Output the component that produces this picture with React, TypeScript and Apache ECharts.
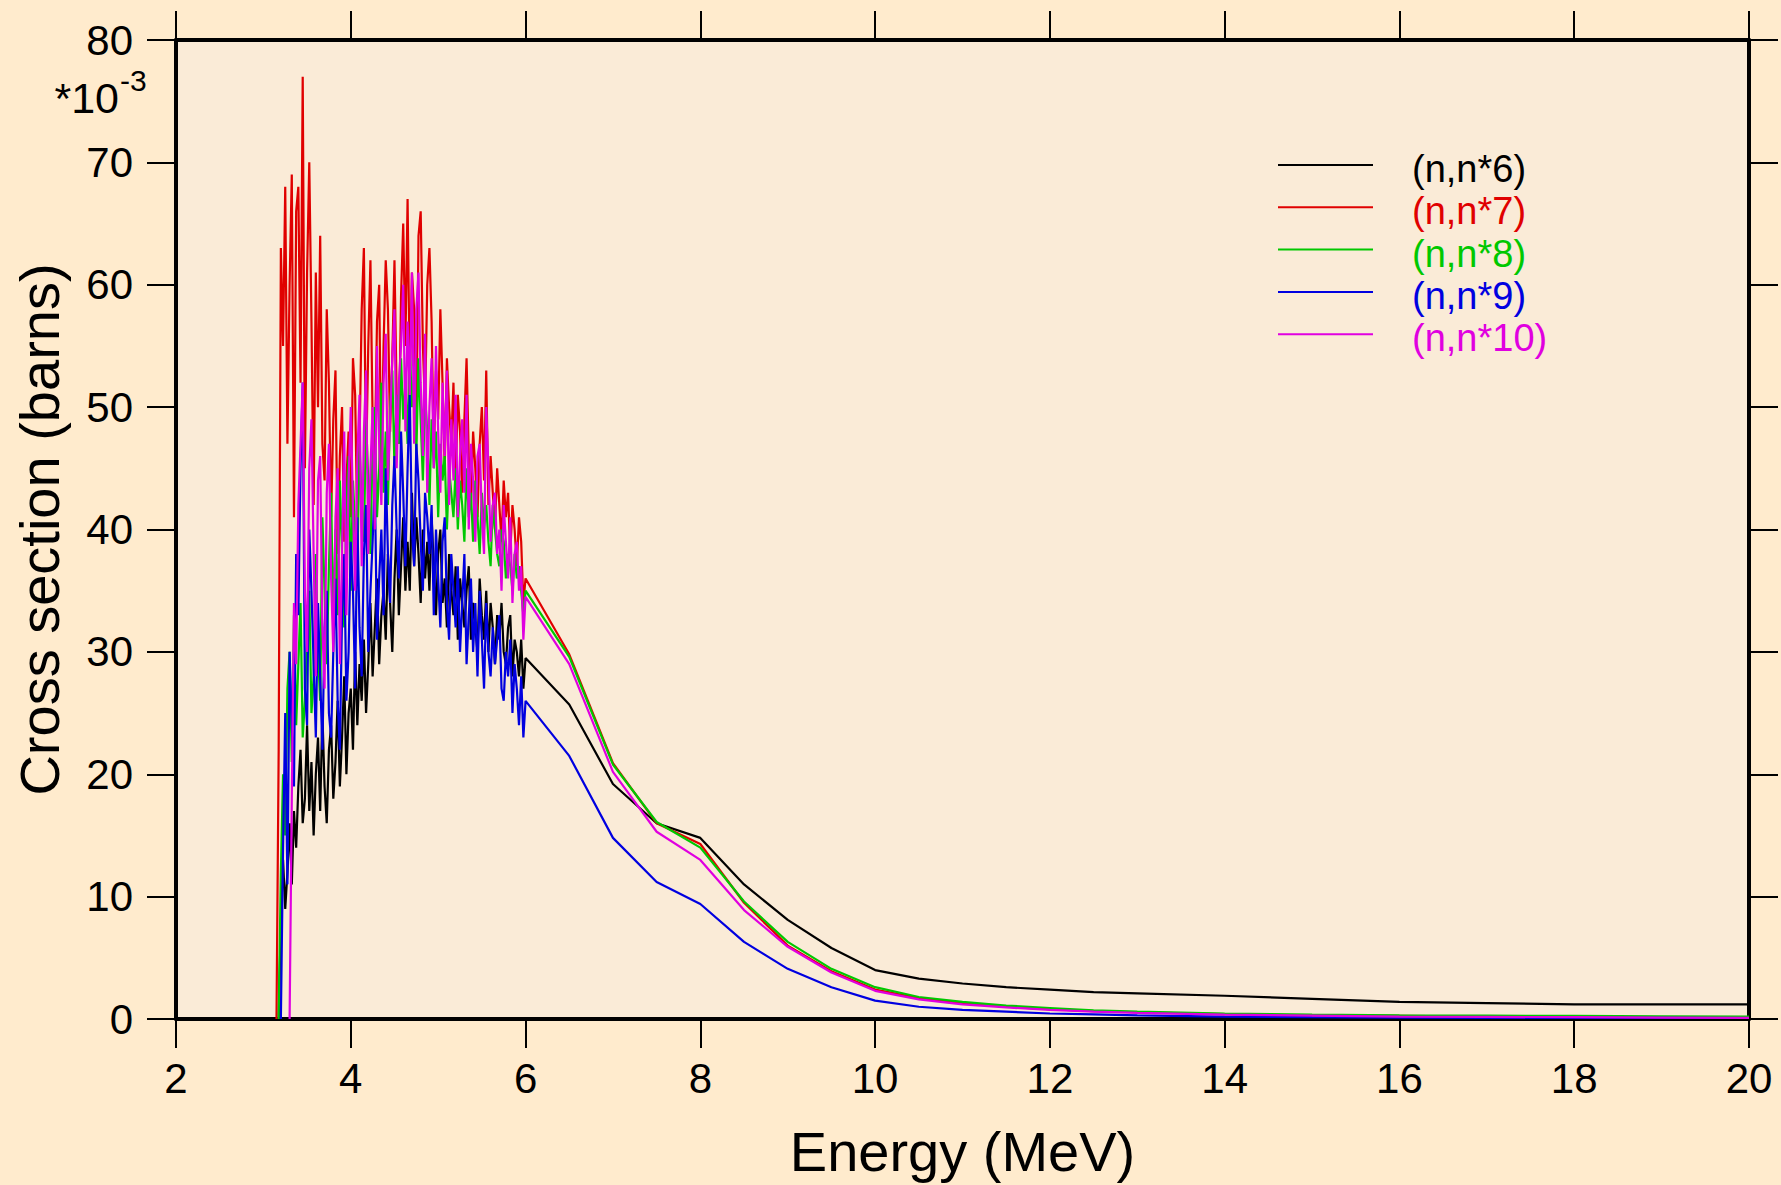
import React, { useEffect, useRef } from "react";
import * as echarts from "echarts";

// Energy grid (MeV) of the resonance region
const E_NOISY = [
  3.15, 3.175, 3.2, 3.225, 3.25, 3.275, 3.3, 3.325, 3.35, 3.375,
  3.4, 3.425, 3.45, 3.475, 3.5, 3.525, 3.55, 3.575, 3.6, 3.625,
  3.65, 3.675, 3.7, 3.725, 3.75, 3.775, 3.8, 3.825, 3.85, 3.875,
  3.9, 3.925, 3.95, 3.975, 4.0, 4.025, 4.05, 4.075, 4.1, 4.125,
  4.15, 4.175, 4.2, 4.225, 4.25, 4.275, 4.3, 4.325, 4.35, 4.375,
  4.4, 4.425, 4.45, 4.475, 4.5, 4.525, 4.55, 4.575, 4.6, 4.625,
  4.65, 4.675, 4.7, 4.725, 4.75, 4.775, 4.8, 4.825, 4.85, 4.875,
  4.9, 4.925, 4.95, 4.975, 5.0, 5.025, 5.05, 5.075, 5.1, 5.125,
  5.15, 5.175, 5.2, 5.225, 5.25, 5.275, 5.3, 5.325, 5.35, 5.375,
  5.4, 5.425, 5.45, 5.475, 5.5, 5.525, 5.55, 5.575, 5.6, 5.625,
  5.65, 5.675, 5.7, 5.725, 5.75, 5.775, 5.8, 5.825, 5.85, 5.875,
  5.9, 5.925, 5.95, 5.975,
];

// Energy grid (MeV) of the smooth region
const E_SMOOTH = [6, 6.5, 7, 7.5, 8, 8.5, 9, 9.5, 10, 10.5, 11, 11.5, 12, 12.5, 13, 14, 15, 16, 17, 18, 19, 20];

// Cross sections in units of 1e-3 barns
const N6_NOISY = [
  null, 0, 8, 13, 9, 12, 16, 11, 17, 14,
  19, 22, 16, 18, 24, 17, 21, 15, 20, 23,
  17, 25, 19, 16, 22, 24, 18, 21, 26, 19,
  23, 28, 20, 25, 27, 22, 30, 24, 29, 26,
  31, 25, 29, 34, 28, 32, 36, 29, 33, 35,
  31, 38, 34, 30, 36, 40, 33, 37, 41, 35,
  39, 35, 43, 37, 41, 38, 34, 40, 36, 39,
  35, 41, 37, 33, 38, 40, 34, 36, 32, 38,
  35, 33, 37, 31, 36, 34, 32, 35, 37, 31,
  34, 32, 30, 36, 33, 31, 35, 30, 34, 32,
  29, 33, 31, 34, 30, 29, 32, 33, 28, 31,
  30, 28, 31, 27,
];
const N6_SMOOTH = [29.5, 25.7, 19.2, 16.0, 14.8, 11.0, 8.1, 5.8, 4.0, 3.3, 2.9, 2.6, 2.4, 2.2, 2.1, 1.9, 1.65, 1.4, 1.3, 1.2, 1.2, 1.2];

const N7_NOISY = [
  0, 22, 63, 55, 68, 47, 60, 69, 41, 66,
  68, 52, 77, 45, 61, 70, 57, 42, 61, 50,
  64, 47, 44, 58, 52, 41, 49, 53, 38, 46,
  50, 39, 44, 48, 41, 54, 51, 40, 47, 58,
  63, 45, 55, 62, 49, 46, 57, 60, 44, 55,
  62, 58, 48, 54, 62, 51, 47, 59, 65, 55,
  67, 52, 61, 58, 48, 64, 66, 55, 50, 60,
  63, 57, 46, 53, 49, 58, 52, 45, 54, 50,
  47, 52, 44, 51, 48, 43, 49, 54, 46, 42,
  48, 45, 41, 47, 50, 44, 53, 42, 46, 43,
  40, 45, 42, 39, 44, 41, 43, 38, 42, 40,
  37, 41, 39, 34,
];
const N7_SMOOTH = [36, 29.8, 20.9, 16.0, 14.3, 9.5, 6.0, 3.9, 2.4, 1.7, 1.3, 1.0, 0.8, 0.65, 0.55, 0.4, 0.3, 0.25, 0.2, 0.18, 0.16, 0.15];

const N8_NOISY = [
  null, 0, 12, 20, 15, 27, 30, 21, 33, 24,
  29, 34, 23, 26, 31, 35, 25, 28, 38, 30,
  26, 41, 35, 29, 37, 43, 32, 40, 33, 44,
  38, 32, 42, 46, 35, 44, 40, 37, 47, 42,
  39, 49, 44, 38, 47, 50, 41, 45, 52, 43,
  48, 42, 50, 53, 45, 51, 47, 54, 49, 52,
  47, 55, 50, 53, 46, 54, 49, 44, 51, 48,
  42, 49, 45, 48, 41, 47, 44, 46, 40, 45,
  43, 41, 45, 40, 44, 42, 39, 45, 41, 43,
  39, 44, 41, 38, 43, 40, 42, 39, 37, 42,
  40, 38, 37, 40, 39, 36, 38, 37, 35, 38,
  36, 37, 35, 33,
];
const N8_SMOOTH = [35, 29.6, 20.8, 16.1, 14.0, 9.6, 6.3, 4.1, 2.6, 1.8, 1.4, 1.1, 0.9, 0.7, 0.6, 0.45, 0.35, 0.3, 0.27, 0.25, 0.22, 0.2];

const N9_NOISY = [
  null, null, 0, 14, 25, 11, 30, 24, 19, 38,
  33, 45, 52, 27, 24, 40, 35, 29, 23, 34,
  28, 22, 32, 35, 25, 23, 30, 36, 26, 22,
  33, 38, 26, 30, 39, 35, 27, 41, 32, 28,
  38, 42, 30, 35, 39, 44, 31, 36, 40, 33,
  45, 38, 34, 42, 46, 40, 36, 48, 43, 37,
  45, 51, 40, 37, 47, 44, 39, 35, 43, 41,
  38, 42, 33, 40, 36, 32, 39, 41, 34, 31,
  38, 35, 32, 37, 30, 34, 38, 29, 33, 36,
  30, 34, 28, 35, 31, 27, 34, 30, 28, 32,
  29, 31, 33, 27, 26, 30, 28, 31, 25, 29,
  27, 24, 28, 23,
];
const N9_SMOOTH = [26, 21.5, 14.8, 11.2, 9.4, 6.3, 4.1, 2.6, 1.5, 1.0, 0.75, 0.6, 0.45, 0.38, 0.3, 0.2, 0.15, 0.12, 0.1, 0.1, 0.09, 0.08];

const N10_NOISY = [
  null, null, null, null, null, null, 0, 18, 34, 29,
  42, 47, 52, 35, 30, 45, 49, 38, 28, 44,
  46, 32, 27, 43, 47, 36, 30, 41, 45, 29,
  38, 48, 33, 44, 50, 42, 35, 46, 51, 37,
  48, 53, 38, 45, 50, 40, 55, 47, 42, 52,
  56, 44, 49, 54, 58, 45, 52, 55, 60, 48,
  57, 51, 61, 47, 58, 61, 52, 46, 56, 43,
  50, 54, 45, 55, 48, 43, 52, 46, 53, 42,
  49, 44, 51, 41, 46, 49, 43, 51, 40, 47,
  44, 39, 46, 47, 41, 38, 50, 45, 39, 42,
  43, 38, 40, 35, 42, 39, 36, 41, 34, 38,
  39, 35, 37, 31,
];
const N10_SMOOTH = [34.5, 29.0, 20.2, 15.3, 13.0, 8.9, 5.9, 3.8, 2.3, 1.6, 1.2, 0.95, 0.75, 0.6, 0.5, 0.35, 0.28, 0.2, 0.17, 0.15, 0.12, 0.1];

const SERIES_NAMES = ["(n,n*6)", "(n,n*7)", "(n,n*8)", "(n,n*9)", "(n,n*10)"];
const SERIES_COLORS = ["#000000", "#E00000", "#00C800", "#0000E0", "#E000E0"];
const NOISY = [N6_NOISY, N7_NOISY, N8_NOISY, N9_NOISY, N10_NOISY];
const SMOOTH = [N6_SMOOTH, N7_SMOOTH, N8_SMOOTH, N9_SMOOTH, N10_SMOOTH];

const X_TICKS = [2, 4, 6, 8, 10, 12, 14, 16, 18, 20];
const Y_TICKS = [0, 10, 20, 30, 40, 50, 60, 70, 80];

const FONT = "'Liberation Sans', Arial, Helvetica, sans-serif";

function buildData(noisy: (number | null)[], smooth: number[]) {
  const out: [number, number][] = [];
  noisy.forEach((v, i) => {
    if (v !== null) out.push([E_NOISY[i], v]);
  });
  smooth.forEach((v, i) => out.push([E_SMOOTH[i], v]));
  return out;
}

export default function App() {
  const ref = useRef<HTMLDivElement>(null);
  useEffect(() => {
    document.body.style.margin = "0";
    const chart = echarts.init(ref.current!, null, { renderer: "svg" });
    const axisLine = { show: true, onZero: false, lineStyle: { color: "#000", width: 4 } };
    const axisTick = { show: true, inside: false, length: 29, lineStyle: { color: "#000", width: 2 } };
    const xBase = {
      type: "value" as const,
      min: X_TICKS[0],
      max: X_TICKS[X_TICKS.length - 1],
      interval: 2,
      splitLine: { show: false },
      axisLine,
      axisTick,
    };
    const yBase = {
      type: "value" as const,
      min: Y_TICKS[0],
      max: Y_TICKS[Y_TICKS.length - 1],
      interval: 10,
      splitLine: { show: false },
      axisLine,
      axisTick,
    };
    const legendGraphics: any[] = [];
    SERIES_NAMES.forEach((name, i) => {
      const y = 165 + 42.3 * i;
      legendGraphics.push({
        type: "line",
        shape: { x1: 1278, y1: y, x2: 1373, y2: y },
        style: { stroke: SERIES_COLORS[i], lineWidth: 2 },
        z: 10,
      });
      legendGraphics.push({
        type: "text",
        x: 1412,
        y: y + 4,
        style: {
          text: name,
          fill: SERIES_COLORS[i],
          fontSize: 38,
          fontFamily: FONT,
          verticalAlign: "middle",
          align: "left",
        },
        z: 10,
      });
    });
    const option = {
      animation: false,
      backgroundColor: "#FFEBCD",
      textStyle: { fontFamily: FONT },
      grid: {
        left: 176,
        right: 32,
        top: 40,
        bottom: 166,
        show: true,
        backgroundColor: "#FAEBD7",
        borderWidth: 0,
      },
      xAxis: [
        {
          ...xBase,
          position: "bottom",
          name: "Energy (MeV)",
          nameLocation: "middle",
          nameGap: 104,
          nameTextStyle: { fontSize: 56, color: "#000", fontFamily: FONT },
          axisLabel: {
            show: true,
            fontSize: 42,
            color: "#000",
            margin: 38,
            fontFamily: FONT,
            showMinLabel: true,
            showMaxLabel: true,
          },
        },
        {
          ...xBase,
          position: "top",
          axisLabel: { show: false },
        },
      ],
      yAxis: [
        {
          ...yBase,
          position: "left",
          name: "Cross section (barns)",
          nameLocation: "middle",
          nameGap: 109,
          nameTextStyle: { fontSize: 56, color: "#000", fontFamily: FONT },
          axisLabel: {
            show: true,
            fontSize: 42,
            color: "#000",
            margin: 43,
            fontFamily: FONT,
            showMinLabel: true,
            showMaxLabel: true,
          },
        },
        {
          ...yBase,
          position: "right",
          axisLabel: { show: false },
        },
      ],
      graphic: [
        {
          type: "text",
          x: 119,
          y: 98,
          style: { text: "*10", fill: "#000", fontSize: 43, fontFamily: FONT, align: "right", verticalAlign: "middle" },
        },
        {
          type: "text",
          x: 120,
          y: 80,
          style: { text: "-3", fill: "#000", fontSize: 30, fontFamily: FONT, align: "left", verticalAlign: "middle" },
        },
        ...legendGraphics,
      ],
      series: SERIES_NAMES.map((name, i) => ({
        name,
        type: "line",
        xAxisIndex: 0,
        yAxisIndex: 0,
        data: buildData(NOISY[i], SMOOTH[i]),
        showSymbol: false,
        symbol: "none",
        lineStyle: { color: SERIES_COLORS[i], width: 2.2 },
        itemStyle: { color: SERIES_COLORS[i] },
        z: 2 + i,
      })),
    };
    chart.setOption(option as any);
    return () => chart.dispose();
  }, []);
  return <div ref={ref} style={{ width: 1781, height: 1185 }} />;
}
